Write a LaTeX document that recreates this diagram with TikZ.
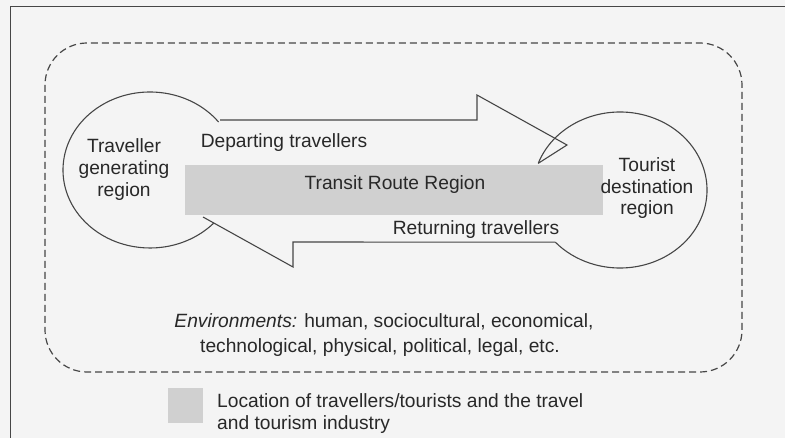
\documentclass[tikz,border=0pt]{standalone}
\usepackage{fontspec}
\setmainfont{Liberation Sans}
\definecolor{bgc}{RGB}{244,244,244}
\definecolor{linec}{RGB}{70,70,70}
\definecolor{grayfill}{RGB}{208,208,208}
\definecolor{txtc}{RGB}{40,40,40}
\tikzset{
  lbl/.style={anchor=base, inner sep=0pt, text=txtc, font=\fontsize{19.2}{22}\selectfont},
  lbll/.style={lbl, anchor=base west},
  ln/.style={draw=linec, line width=1.1pt, line join=miter},
  envline/.style={draw=linec, line width=1.2pt, dash pattern=on 7pt off 4pt},
}
\begin{document}
\begin{tikzpicture}[x=1pt,y=-1pt]
\fill[bgc] (0,0) rectangle (785,438);
\useasboundingbox (0,0) rectangle (785,438);
% frame
\draw[draw=linec, line width=1pt] (10,438) -- (10,7) -- (785,7);
% environment
\draw[envline, rounded corners=42pt] (45,43) rectangle (742,372);
% transit region
\fill[grayfill] (185,165) rectangle (603,215);
\node[lbl] (transit) at (395,190) {Transit Route Region};
% left region (open ellipse)
\coordinate (lc) at (150,170);
\draw[ln] (lc) ++(-38:87 and 78) arc[start angle=-38, end angle=-317, x radius=87, y radius=78];
% right region (open ellipse)
\coordinate (rc) at (620,190);
\draw[ln] (rc) ++(-160:87 and 78) coordinate (rtail) arc[start angle=-160, end angle=138, x radius=87, y radius=78] coordinate (rend);
% departing arrow
\draw[ln] (220,120) -- (477,120) -- (477,95) -- (567,145) -- (rtail);
% returning arrow
\draw[ln] (rend) -- (293,242) -- (293,267) -- (203,217);
% labels
\node[lbl] (tg1) at (124,153) {Traveller};
\node[lbl] (tg2) at (124,175) {generating};
\node[lbl] (tg3) at (124,197) {region};
\node[lbl] (td1) at (647,172) {Tourist};
\node[lbl] (td2) at (647,193.5) {destination};
\node[lbl] (td3) at (647,215) {region};
\node[lbl] (dep) at (284,148) {Departing travellers};
\node[lbl] (ret) at (476,235) {Returning travellers};
\node[lbl] (env1) at (384,328) {\textit{Environments:} human, sociocultural, economical,};
\node[lbl] (env2) at (380,353) {technological, physical, political, legal, etc.};
% legend
\fill[grayfill] (168,388) rectangle (203,423);
\node[lbll] (leg1) at (217,407) {Location of travellers/tourists and the travel};
\node[lbll] (leg2) at (217,430) {and tourism industry};
\end{tikzpicture}
\end{document}
